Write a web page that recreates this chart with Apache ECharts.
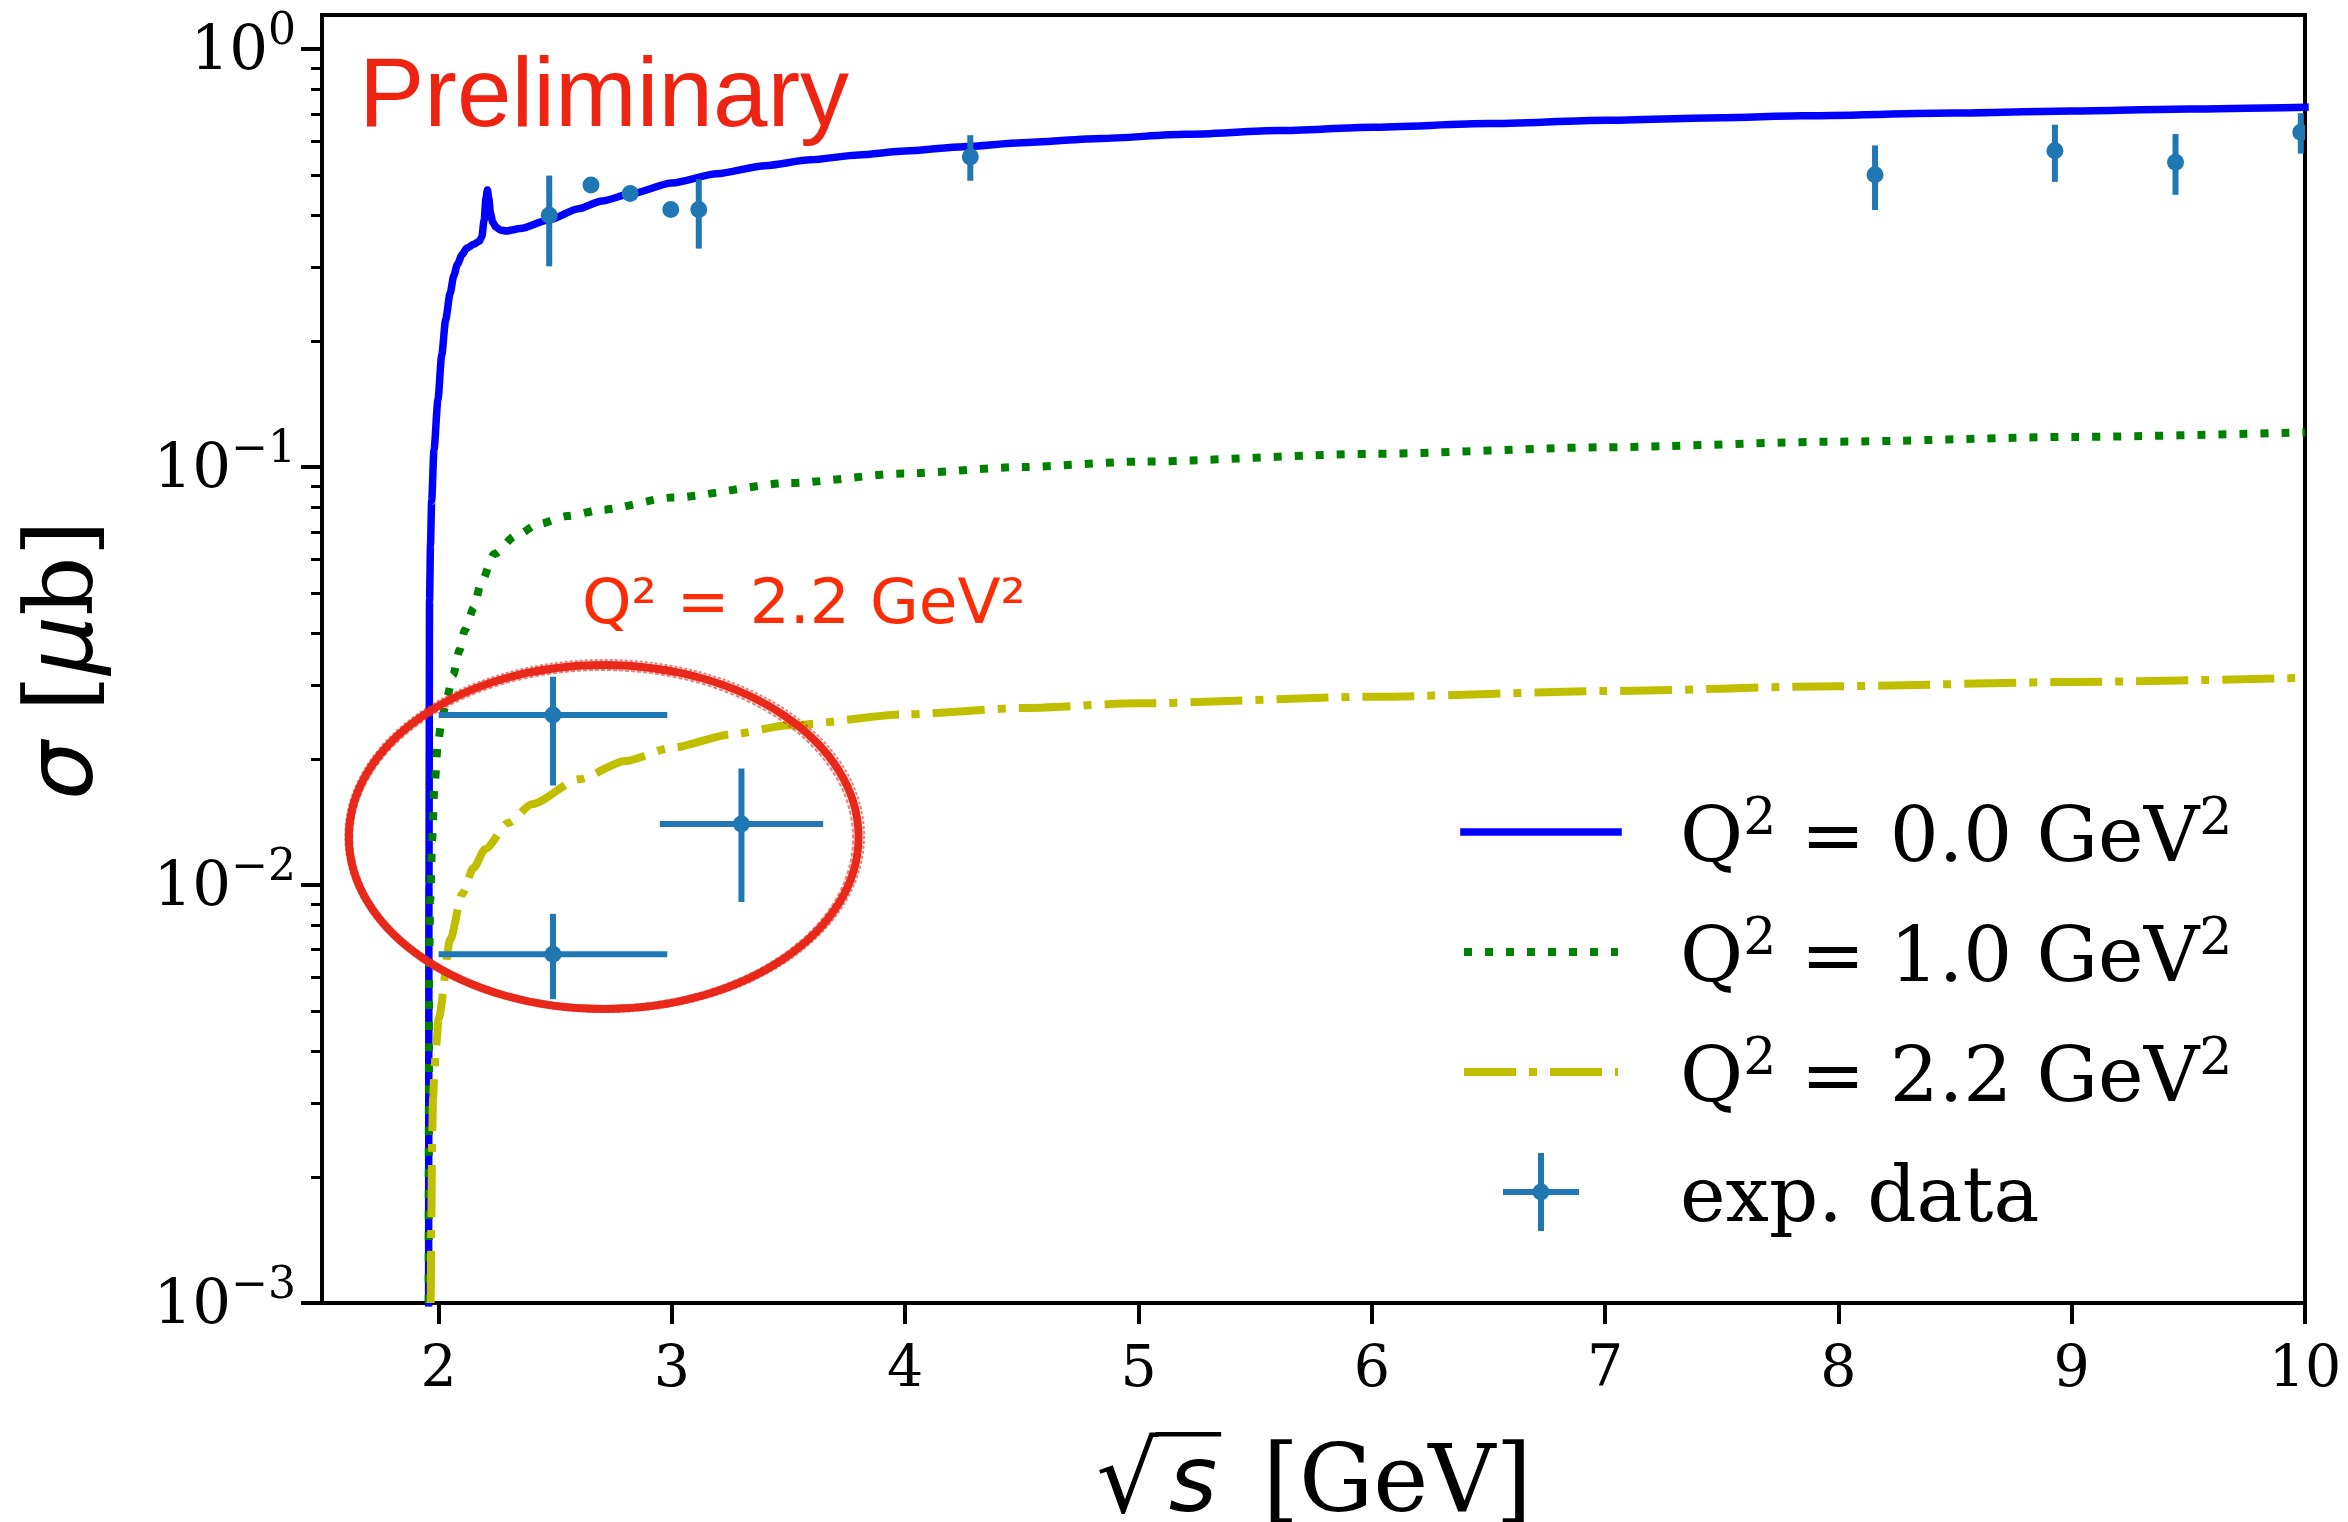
<!DOCTYPE html>
<html>
<head>
<meta charset="utf-8">
<script src="https://cdn.jsdelivr.net/npm/echarts@6/dist/echarts.min.js"></script>
<style>
  html, body { margin: 0; padding: 0; background: #ffffff; }
  #chart { width: 2348px; height: 1522px; }
</style>
</head>
<body>
<div id="chart"></div>
<script>
// sqrt(s) [GeV] and sigma [microbarn] for the model curves
const q0X = [1.957, 1.9585, 1.961, 1.965, 1.970, 1.980, 1.997, 2.013, 2.030, 2.049, 2.065, 2.080, 2.100, 2.121, 2.150, 2.175, 2.185, 2.195, 2.203, 2.209, 2.215, 2.222, 2.232, 2.245, 2.264, 2.290, 2.350, 2.471, 2.600, 2.700, 2.821, 3.000, 3.193, 3.400, 3.593, 3.800, 4.000, 4.250, 4.500, 4.840, 5.200, 5.600, 6.000, 6.500, 7.000, 7.500, 7.840, 8.500, 9.000, 9.500, 10.00];
const q0Y = [0.001, 0.010, 0.048, 0.065, 0.083, 0.110, 0.145, 0.185, 0.225, 0.260, 0.287, 0.305, 0.322, 0.334, 0.341, 0.347, 0.355, 0.390, 0.440, 0.460, 0.440, 0.405, 0.385, 0.375, 0.369, 0.367, 0.372, 0.390, 0.415, 0.433, 0.450, 0.478, 0.503, 0.526, 0.543, 0.558, 0.570, 0.584, 0.597, 0.611, 0.625, 0.638, 0.650, 0.663, 0.675, 0.685, 0.692, 0.703, 0.711, 0.719, 0.726];

const q1X = [1.957, 1.958, 1.959, 1.964, 1.972, 1.981, 1.997, 2.013, 2.036, 2.062, 2.090, 2.112, 2.152, 2.180, 2.238, 2.330, 2.431, 2.550, 2.700, 3.000, 3.500, 4.000, 4.500, 5.000, 6.000, 7.000, 8.000, 9.000, 10.00];
const q1Y = [0.001, 0.003, 0.0064, 0.0092, 0.0128, 0.0169, 0.0219, 0.0248, 0.0282, 0.0318, 0.0365, 0.0407, 0.0462, 0.0525, 0.0619, 0.0685, 0.0731, 0.0763, 0.0790, 0.0845, 0.0915, 0.0965, 0.1000, 0.1030, 0.1075, 0.1115, 0.1150, 0.1180, 0.1210];

const q22X = [1.966, 1.969, 1.972, 1.976, 1.982, 1.989, 2.000, 2.050, 2.100, 2.150, 2.200, 2.300, 2.400, 2.600, 2.800, 3.000, 3.250, 3.500, 4.000, 4.500, 5.000, 6.000, 7.000, 8.000, 9.000, 10.00];
const q22Y = [0.0010, 0.0016, 0.0025, 0.0031, 0.0036, 0.0041, 0.0048, 0.0074, 0.0095, 0.0110, 0.0122, 0.0141, 0.0156, 0.0179, 0.0198, 0.0213, 0.0229, 0.0241, 0.0256, 0.0265, 0.0272, 0.0282, 0.0291, 0.0299, 0.0306, 0.0313];

// measured cross sections: centre, half bin width, lower and upper error
const expX      = [2.474, 2.653, 2.821, 2.995, 3.115, 4.279, 8.157, 8.928, 9.445, 9.982, 2.490, 3.298, 2.490];
const expY      = [0.400, 0.473, 0.451, 0.413, 0.413, 0.552, 0.500, 0.571, 0.536, 0.632, 0.0255, 0.0140, 0.00683];
const expXErr   = [0, 0, 0, 0, 0, 0, 0, 0, 0, 0, 0.49, 0.35, 0.49];
const expErrLow = [0.098, 0.015, 0.015, 0.015, 0.080, 0.068, 0.088, 0.090, 0.088, 0.070, 0.0082, 0.0049, 0.0015];
const expErrHigh= [0.098, 0.015, 0.015, 0.015, 0.075, 0.070, 0.088, 0.088, 0.090, 0.070, 0.0060, 0.0050, 0.0017];

const xTickValues = [2, 3, 4, 5, 6, 7, 8, 9, 10];
const yTickValues = [0.001, 0.01, 0.1, 1];
const legendNames = ['Q2 = 0.0 GeV2', 'Q2 = 1.0 GeV2', 'Q2 = 2.2 GeV2', 'exp. data'];
const legendValues = ['0.0', '1.0', '2.2'];

// minor ticks of the logarithmic axis: 2..9 within each decade
const yMinorValues = [];
[0.001, 0.01, 0.1].forEach(d => { for (let m = 2; m <= 9; m++) yMinorValues.push(+(m * d).toPrecision(3)); });

const SERIF = 'DejaVu Serif';
const SANS = 'DejaVu Sans';
const BLUE = '#0000ff', GREEN = '#008000', OLIVE = '#bfbf00', DATA_COLOR = '#1f77b4';

const chart = echarts.init(document.getElementById('chart'), null, { renderer: 'canvas', width: 2348, height: 1522 });

function curve(name, xs, ys, color, width, dash) {
  return {
    type: 'line', name, data: xs.map((x, i) => [x, ys[i]]),
    showSymbol: false, symbol: 'none', smooth: 0.25, smoothMonotone: 'x',
    clip: true, z: 2, silent: true, animation: false,
    lineStyle: { color, width, type: dash || 'solid', cap: dash ? 'butt' : 'square', join: 'round' }
  };
}

const expData = expX.map((x, i) => [x, expY[i], expXErr[i], expErrLow[i], expErrHigh[i]]);

function supLabel(v) {
  const e = Math.round(Math.log10(v));
  return '{b|10}{e|' + (e < 0 ? '\u2212' + (-e) : String(e)) + '}';
}

chart.setOption({
  animation: false,
  backgroundColor: '#ffffff',
  grid: { left: 322, right: 43, top: 15, bottom: 219, containLabel: false, outerBoundsMode: 'none',
          show: true, borderColor: '#000', borderWidth: 4, backgroundColor: 'transparent' },
  xAxis: {
    type: 'value', min: 1.5, max: 10,
    axisLine: { onZero: false, lineStyle: { color: '#000', width: 4 } },
    axisTick: { customValues: xTickValues, length: 21, lineStyle: { color: '#000', width: 4 } },
    axisLabel: { customValues: xTickValues, margin: 40, fontFamily: SERIF, fontSize: 57, color: '#000' },
    splitLine: { show: false }
  },
  yAxis: [{
    type: 'log', logBase: 10, min: 0.001, max: 1.206,
    axisLine: { lineStyle: { color: '#000', width: 4 } },
    axisTick: { customValues: yTickValues, length: 21, lineStyle: { color: '#000', width: 4 } },
    axisLabel: {
      customValues: yTickValues, margin: 26, color: '#000', formatter: supLabel,
      rich: {
        b: { fontFamily: SERIF, fontSize: 61, color: '#000', padding: [8, 0, 0, 0] },
        e: { fontFamily: SERIF, fontSize: 44, color: '#000', padding: [0, 0, 33, 0] }
      }
    },
    splitLine: { show: false }, minorSplitLine: { show: false }
  }, {
    type: 'log', logBase: 10, min: 0.001, max: 1.206, position: 'left',
    axisLine: { show: false },
    axisTick: { customValues: yMinorValues, length: 11, lineStyle: { color: '#000', width: 3 } },
    axisLabel: { show: false },
    splitLine: { show: false }
  }],
  series: [
    curve(legendNames[0], q0X, q0Y, BLUE, 7.5),
    curve(legendNames[1], q1X, q1Y, GREEN, 8, [8, 13]),
    curve(legendNames[2], q22X, q22Y, OLIVE, 8, [52, 13, 8, 13]),
    {
      type: 'custom', name: legendNames[3], data: expData, clip: true, z: 4, silent: true,
      encode: { x: 0, y: 1 },
      renderItem(params, api) {
        const x = api.value(0), y = api.value(1), xe = api.value(2), lo = api.value(3), hi = api.value(4);
        const c = api.coord([x, y]);
        const st = { stroke: DATA_COLOR, lineWidth: 6 };
        const children = [];
        if (lo > 0 || hi > 0) {
          const a = api.coord([x, y - lo]), b = api.coord([x, y + hi]);
          children.push({ type: 'line', shape: { x1: a[0], y1: a[1], x2: b[0], y2: b[1] }, style: st });
        }
        if (xe > 0) {
          const a = api.coord([x - xe, y]), b = api.coord([x + xe, y]);
          children.push({ type: 'line', shape: { x1: a[0], y1: a[1], x2: b[0], y2: b[1] }, style: st });
        }
        children.push({ type: 'circle', shape: { cx: c[0], cy: c[1], r: 8.5 }, style: { fill: DATA_COLOR } });
        return { type: 'group', children };
      }
    }
  ]
});

// ---- text metrics helpers (vertical placement of free text) ----
const mctx = document.createElement('canvas').getContext('2d');
function metrics(font, s) { mctx.font = font; mctx.textBaseline = 'middle'; return mctx.measureText(s); }
// offset of the cap-height centre below the "middle" baseline
function capOffset(font) { const m = metrics(font, 'H'); return (m.actualBoundingBoxDescent - m.actualBoundingBoxAscent) / 2; }

// ---- annotation ellipse around the Q2 = 2.2 points (data space bounds) ----
const ellLT = chart.convertToPixel({ xAxisIndex: 0, yAxisIndex: 0 }, [1.615, 0.0336]);
const ellRB = chart.convertToPixel({ xAxisIndex: 0, yAxisIndex: 0 }, [3.800, 0.00505]);
const ecx = (ellLT[0] + ellRB[0]) / 2, ecy = (ellLT[1] + ellRB[1]) / 2;
const erx = (ellRB[0] - ellLT[0]) / 2, ery = (ellRB[1] - ellLT[1]) / 2;
const RED_RING = '#e8281b';

const graphics = [];
// a main stroke plus two offset hairlines give the marker-pen ring its ragged edge
graphics.push({ type: 'ellipse', z: 20, silent: true, shape: { cx: ecx, cy: ecy, rx: erx, ry: ery },
  style: { fill: 'none', stroke: RED_RING, lineWidth: 8 } });
graphics.push({ type: 'ellipse', z: 20, silent: true, shape: { cx: ecx + 1, cy: ecy - 1, rx: erx + 4.5, ry: ery + 4 },
  style: { fill: 'none', stroke: RED_RING, lineWidth: 2, opacity: 0.6, lineDash: [3, 2] } });
graphics.push({ type: 'ellipse', z: 20, silent: true, shape: { cx: ecx - 1, cy: ecy + 1, rx: erx - 4.5, ry: ery - 4 },
  style: { fill: 'none', stroke: RED_RING, lineWidth: 2, opacity: 0.6, lineDash: [4, 2] } });

// ---- "Preliminary" stamp ----
const fPre = '98px "Liberation Sans"';
graphics.push({ type: 'text', z: 30, silent: true, x: 359, y: 92.5 - capOffset(fPre),
  style: { text: 'Preliminary', fontFamily: 'Liberation Sans', fontSize: 98, fill: '#ef2312', align: 'left', verticalAlign: 'middle' } });

// ---- Q2 label of the circled points ----
const fQ = '63px "' + SANS + '"';
graphics.push({ type: 'text', z: 30, silent: true, x: 582, y: 600 - capOffset(fQ),
  style: { text: 'Q\u00b2 = 2.2 GeV\u00b2', fontFamily: SANS, fontSize: 63, fill: '#fb2d06', align: 'left', verticalAlign: 'middle' } });

// ---- legend ----
const legRows = [832, 952, 1072, 1192];
const legX1 = 1464, legX2 = 1618, legTextX = 1680;
const fLeg = '77px "' + SERIF + '"';
const legOff = capOffset(fLeg);
graphics.push({ type: 'line', z: 25, silent: true, shape: { x1: legX1, y1: legRows[0], x2: legX2, y2: legRows[0] },
  style: { stroke: BLUE, lineWidth: 7.5, lineCap: 'square' } });
graphics.push({ type: 'line', z: 25, silent: true, shape: { x1: legX1, y1: legRows[1], x2: legX2, y2: legRows[1] },
  style: { stroke: GREEN, lineWidth: 8, lineDash: [8, 13], lineCap: 'butt' } });
graphics.push({ type: 'line', z: 25, silent: true, shape: { x1: legX1, y1: legRows[2], x2: legX2, y2: legRows[2] },
  style: { stroke: OLIVE, lineWidth: 8, lineDash: [52, 13, 8, 13], lineCap: 'butt' } });
const crossCx = (legX1 + legX2) / 2;
graphics.push({ type: 'group', z: 25, silent: true, children: [
  { type: 'line', shape: { x1: crossCx - 38, y1: legRows[3], x2: crossCx + 38, y2: legRows[3] }, style: { stroke: DATA_COLOR, lineWidth: 6 } },
  { type: 'line', shape: { x1: crossCx, y1: legRows[3] - 39, x2: crossCx, y2: legRows[3] + 39 }, style: { stroke: DATA_COLOR, lineWidth: 6 } },
  { type: 'circle', shape: { cx: crossCx, cy: legRows[3], r: 8.5 }, style: { fill: DATA_COLOR } }
] });
const legRich = {
  a: { fontFamily: SERIF, fontSize: 77, fill: '#000' },
  s: { fontFamily: SERIF, fontSize: 52, fill: '#000', padding: [0, 0, 40, 0] }
};
legendValues.forEach((v, i) => {
  graphics.push({ type: 'text', z: 25, silent: true, x: legTextX, y: legRows[i] - legOff,
    style: { text: '{a|Q}{s|2}{a| = ' + v + ' GeV}{s|2}', rich: legRich, align: 'left', verticalAlign: 'middle' } });
});
graphics.push({ type: 'text', z: 25, silent: true, x: legTextX, y: legRows[3] - legOff,
  style: { text: legendNames[3], fontFamily: SERIF, fontSize: 77, fill: '#000', align: 'left', verticalAlign: 'middle' } });

// ---- x axis title: sqrt(s) [GeV] ----
const TS = 93, RS = 98;
const PAD_R = [0, 4, 0, 0], PAD_S = [0, 16, 0, 6];
const fRad = RS + 'px "' + SANS + '"', fS = 'italic ' + TS + 'px "' + SANS + '"', fN = TS + 'px "' + SERIF + '"';
const wRad = metrics(fRad, '\u221a').width + PAD_R[1] + PAD_R[3];
const wS = metrics(fS, 's').width + PAD_S[1] + PAD_S[3];
const wN = metrics(fN, ' [GeV]').width;
const xTitleCx = 1314, xTitleBase = 1512;
const gDesc = metrics(fN, 'G').actualBoundingBoxDescent;
const xTitleMid = xTitleBase - gDesc;
const radTop = xTitleMid - metrics(fRad, '\u221a').actualBoundingBoxAscent;
const xTitleLeft = xTitleCx - (wRad + wS + wN) / 2;
graphics.push({ type: 'text', z: 25, silent: true, x: xTitleCx, y: xTitleMid,
  style: { text: '{r|\u221a}{i|s}{n| [GeV]}', align: 'center', verticalAlign: 'middle',
    rich: {
      r: { fontFamily: SANS, fontSize: RS, fill: '#000', padding: PAD_R },
      i: { fontFamily: SANS, fontStyle: 'italic', fontSize: TS, fill: '#000', padding: PAD_S },
      n: { fontFamily: SERIF, fontSize: TS, fill: '#000' }
    } } });
graphics.push({ type: 'line', z: 25, silent: true,
  shape: { x1: xTitleLeft + wRad - PAD_R[1] - 3, y1: radTop + 2, x2: xTitleLeft + wRad + wS - PAD_S[1] + 4, y2: radTop + 2 },
  style: { stroke: '#000', lineWidth: 4.5 } });

// ---- y axis title: sigma [mu b] ----
graphics.push({ type: 'text', z: 25, silent: true, x: 68, y: 660, rotation: Math.PI / 2,
  style: { text: '{g|\u03c3}{n| [}{g|\u03bc}{n|b]}', align: 'center', verticalAlign: 'middle',
    rich: {
      g: { fontFamily: SANS, fontStyle: 'italic', fontSize: TS, fill: '#000' },
      n: { fontFamily: SERIF, fontSize: TS, fill: '#000' }
    } } });

chart.setOption({ graphic: graphics });
</script>
</body>
</html>
